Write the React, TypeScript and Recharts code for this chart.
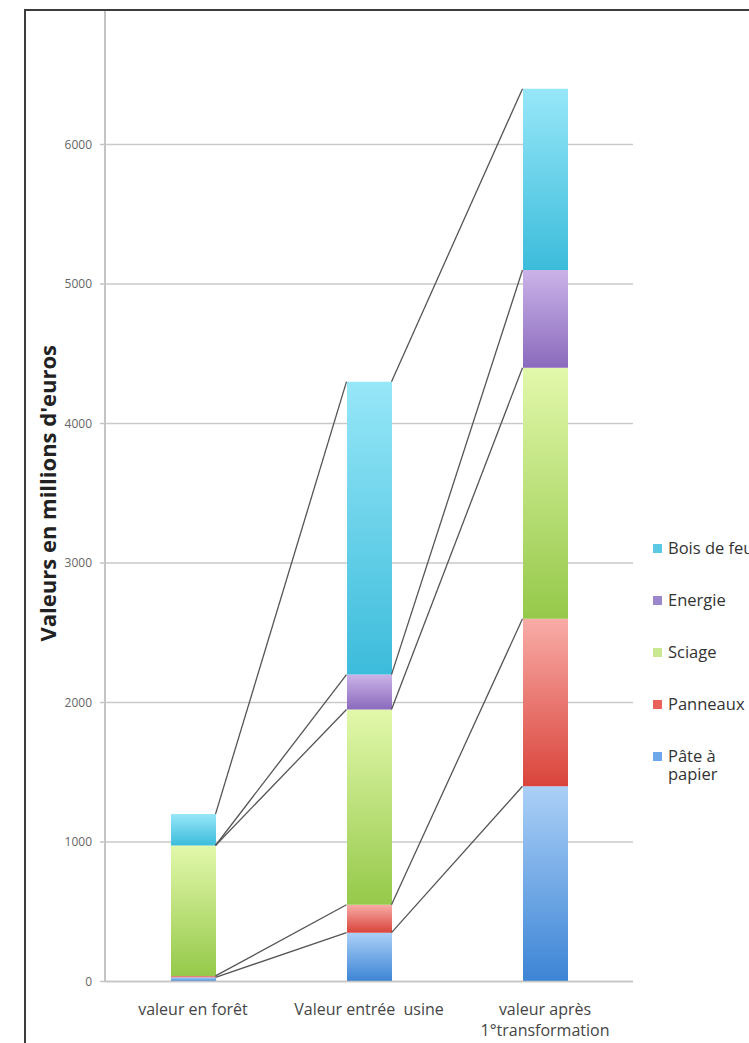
import React from 'react';
import { BarChart, Bar, XAxis, YAxis, CartesianGrid, ReferenceLine, Label } from 'recharts';

// ---- data ----
const categories = ['valeur en forêt', 'Valeur entrée  usine', 'valeur après\n1°transformation'];
const pateAPapier = [30, 350, 1400];
const panneaux = [10, 200, 1200];
const sciage = [935, 1400, 1800];
const energie = [0, 250, 700];
const boisDeFeu = [225, 2100, 1300];
const yTicks = [0, 1000, 2000, 3000, 4000, 5000, 6000, 7000];
const seriesKeys = ['pate', 'panneaux', 'sciage', 'energie', 'bois'];
const seriesNames = ['Pâte à papier', 'Panneaux', 'Sciage', 'Energie', 'Bois de feu'];
const seriesValues = [pateAPapier, panneaux, sciage, energie, boisDeFeu];
const legendLabels = ['Bois de feu', 'Energie', 'Sciage', 'Panneaux', 'Pâte à\npapier'];

// ---- styles ----
const gradTop = ['#abd0f7', '#f9aca7', '#e2f8ab', '#cbb3e8', '#97e7f8'];
const gradBottom = ['#3c84d5', '#d9443b', '#95c94a', '#8a6abd', '#3cbcdb'];
const legendColors = ['#5bc9e4', '#9b87cc', '#c9e891', '#e8625b', '#6ca8ea'];

const W = 749;
const H = 1043;
const M_TOP = 5;
const M_RIGHT = 116;
const Y_W = 105;
const X_H = 60;
const M_BOTTOM = H - 981.5 - X_H;
const PLOT_W = W - M_RIGHT - Y_W;
const BAR_SIZE = 45;
const HW = BAR_SIZE / 2 / (PLOT_W / categories.length);

const data = categories.map((c, i) => {
  const row: any = { name: c };
  seriesKeys.forEach((k, s) => {
    row[k] = seriesValues[s][i];
  });
  return row;
});

const cumulative = categories.map((_, i) => {
  let acc = 0;
  return seriesValues.map((vals) => {
    acc += vals[i];
    return acc;
  });
});

const connectors: { x1: number; y1: number; x2: number; y2: number }[] = [];
for (let i = 0; i < categories.length - 1; i++) {
  for (let s = 0; s < seriesKeys.length; s++) {
    connectors.push({
      x1: i + 0.5 + HW,
      y1: cumulative[i][s],
      x2: i + 1.5 - HW,
      y2: cumulative[i + 1][s],
    });
  }
}

const FONT = "'Open Sans', 'DejaVu Sans', sans-serif";

const XTick = (props: any) => {
  const { x, y, payload } = props;
  const lines = String(payload.value).split('\n');
  return (
    <text x={x} y={y} textAnchor="middle" fill="#454545" fontSize={16} fontFamily={FONT} style={{ whiteSpace: 'pre' }}>
      {lines.map((l, k) => (
        <tspan key={k} x={x} dy={k === 0 ? 25 : 21.5}>
          {l}
        </tspan>
      ))}
    </text>
  );
};

const YTitle = (props: any) => {
  const vb = props.viewBox || { x: 0, y: 0, width: Y_W, height: 0 };
  const cx = vb.x + vb.width * 0.45;
  const cy = vb.y + vb.height / 2;
  return (
    <text
      x={cx}
      y={cy}
      transform={`rotate(-90 ${cx} ${cy})`}
      textAnchor="middle"
      dominantBaseline="central"
      fill="#222"
      fontSize={22}
      fontWeight="bold"
      fontFamily={FONT}
    >
      Valeurs en millions d'euros
    </text>
  );
};

export default function App() {
  return (
    <div style={{ position: 'absolute', left: 0, top: 0, width: W, height: H, overflow: 'hidden', background: '#fff' }}>
      <BarChart
        width={W}
        height={H}
        data={data}
        margin={{ top: M_TOP, right: M_RIGHT, bottom: M_BOTTOM, left: 0 }}
        barCategoryGap={0}
      >
        <defs>
          {seriesKeys.map((k, s) => (
            <linearGradient key={k} id={`g-${k}`} x1="0" y1="0" x2="0" y2="1">
              <stop offset="0%" stopColor={gradTop[s]} />
              <stop offset="100%" stopColor={gradBottom[s]} />
            </linearGradient>
          ))}
        </defs>
        <CartesianGrid vertical={false} stroke="#c9c9c9" strokeWidth={1.5} />
        <XAxis
          dataKey="name"
          height={X_H}
          tick={<XTick />}
          tickLine={false}
          axisLine={{ stroke: '#c4c4c4', strokeWidth: 1.5 }}
          interval={0}
        />
        <XAxis
          xAxisId="n"
          type="number"
          dataKey={() => 0}
          domain={[0, categories.length]}
          allowDataOverflow
          hide
        />
        <YAxis
          width={Y_W}
          domain={[0, 7000]}
          ticks={yTicks}
          interval={0}
          tickSize={5}
          tickMargin={8}
          tick={{ fontSize: 12, fill: '#666', fontFamily: FONT }}
          tickLine={{ stroke: '#c4c4c4', strokeWidth: 1.5 }}
          axisLine={{ stroke: '#c4c4c4', strokeWidth: 2 }}
        >
          <Label content={<YTitle />} position="center" />
        </YAxis>
        {seriesKeys.map((k, s) => (
          <Bar
            key={k}
            dataKey={k}
            name={seriesNames[s]}
            stackId="a"
            barSize={BAR_SIZE}
            fill={`url(#g-${k})`}
            isAnimationActive={false}
          />
        ))}
        {connectors.map((c, idx) => (
          <ReferenceLine
            key={idx}
            xAxisId="n"
            segment={[
              { x: c.x1, y: c.y1 },
              { x: c.x2, y: c.y2 },
            ]}
            stroke="#555"
            strokeWidth={1.3}
            ifOverflow="visible"
          />
        ))}
      </BarChart>

      {/* legend */}
      <div style={{ position: 'absolute', left: 653, top: 539, fontFamily: FONT, fontSize: 16.5, color: '#333' }}>
        {legendLabels.map((l, i) => (
          <div key={i} style={{ height: 52, display: 'flex', alignItems: 'flex-start' }}>
            <div style={{ width: 9, height: 9, marginTop: 4.5, background: legendColors[i], flex: 'none' }} />
            <div style={{ marginLeft: 6, lineHeight: '18px', whiteSpace: 'pre' }}>{l}</div>
          </div>
        ))}
      </div>

      {/* outer frame (cropped) */}
      <div style={{ position: 'absolute', left: 0, top: 0, width: W, height: 9, background: '#fff' }} />
      <div
        style={{
          position: 'absolute',
          left: 24,
          top: 9,
          width: 900,
          height: 1200,
          borderLeft: '2px solid #3c3c3c',
          borderTop: '2px solid #3c3c3c',
          pointerEvents: 'none',
        }}
      />
    </div>
  );
}
